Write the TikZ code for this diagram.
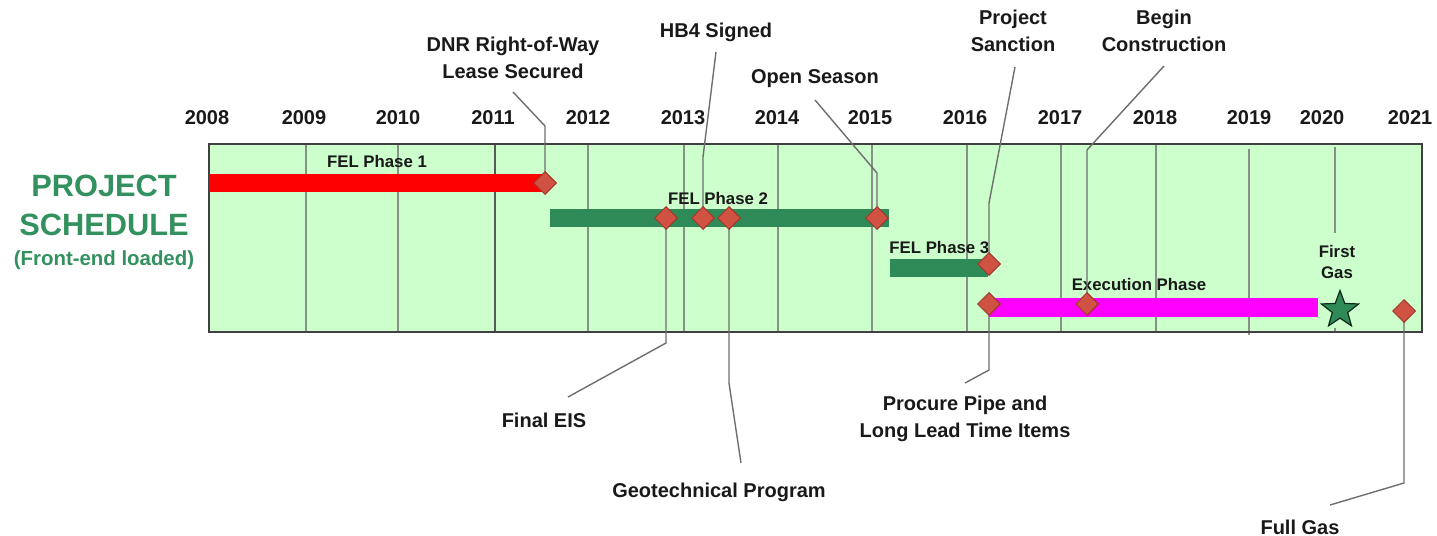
\documentclass[tikz,border=0pt]{standalone}
\usepackage{fontspec}
\setmainfont{Liberation Sans}
\usetikzlibrary{shapes.geometric}
\definecolor{boxfill}{RGB}{204,255,204}
\definecolor{titlegreen}{RGB}{51,145,95}
\definecolor{bargreen}{RGB}{46,139,87}
\definecolor{barred}{RGB}{255,0,0}
\definecolor{barmag}{RGB}{255,0,255}
\definecolor{dmfill}{RGB}{208,82,66}
\definecolor{dmdraw}{RGB}{160,55,45}
\definecolor{gridgray}{RGB}{135,145,135}
\definecolor{leadgray}{RGB}{110,110,110}
\definecolor{txt}{RGB}{25,25,25}
\tikzset{
  year/.style={font=\fontsize{10}{12}\selectfont\bfseries, text=txt, inner sep=0pt},
  lbl/.style={font=\fontsize{10}{13.2}\selectfont\bfseries, align=center, text=txt, inner sep=0pt},
  inlbl/.style={font=\fontsize{8.4}{10.5}\selectfont\bfseries, align=center, text=txt, inner sep=0pt},
  ms/.style={diamond, draw=dmdraw, fill=dmfill, line width=0.5pt, inner sep=0pt, minimum size=11.5pt},
  leader/.style={draw=leadgray, line width=0.7pt},
  gridline/.style={draw=gridgray, line width=0.7pt},
  title/.style={font=\fontsize{15.4}{18}\selectfont\bfseries, text=titlegreen, inner sep=0pt},
  subtitle/.style={font=\fontsize{10.2}{12}\selectfont\bfseries, text=titlegreen, inner sep=0pt}
}
\begin{document}
\begin{tikzpicture}[x=0.5pt,y=-0.5pt]
\useasboundingbox (0,0) rectangle (1437,536);
% box
\fill[boxfill] (209,144) rectangle (1422,332);
% grid lines
\foreach \gx in {306,398,588,684,778,872,967,1061,1156}
  \draw[gridline] (\gx,144) -- (\gx,332);
\draw[gridline] (1249,149) -- (1249,335);
\draw[gridline] (1335,147) -- (1335,233);
\draw[gridline] (1335,328) -- (1335,332);
\draw[draw=black!65, line width=1.3pt] (495,144) -- (495,332);
\draw[draw=black!75, line width=1.2pt] (209,144) rectangle (1422,332);
% bars
\fill[barred] (209,174) rectangle (543,192);
\fill[bargreen] (550,209) rectangle (889,227);
\fill[bargreen] (890,259) rectangle (988,277);
\fill[barmag] (989,298) rectangle (1318,317);
% title
\node[title] (t1) at (104,186) {PROJECT};
\node[title] (t2) at (104,225) {SCHEDULE};
\node[subtitle] (t3) at (104,260) {(Front-end loaded)};
% years
\foreach \yx/\yl in {207/2008,304/2009,398/2010,493/2011,588/2012,683/2013,777/2014,870/2015,965/2016,1060/2017,1155/2018,1249/2019,1322/2020,1410/2021}
  \node[year] (y\yl) at (\yx,118) {\yl};
% inner labels
\node[inlbl] (fel1) at (377,161) {FEL Phase 1};
\node[inlbl] (fel2) at (718,198) {FEL Phase 2};
\node[inlbl, anchor=west] (fel3) at (889,248) {FEL Phase 3};
\node[inlbl] (exec) at (1139,284) {Execution Phase};
\node[inlbl] (fgas) at (1337,262) {First\\Gas};
% milestone labels
\node[lbl] (ldnr) at (513,58) {DNR Right-of-Way\\Lease Secured};
\node[lbl] (lhb4) at (716,32) {HB4 Signed};
\node[lbl] (lopen) at (815,79) {Open Season};
\node[lbl] (lsanc) at (1013,31) {Project\\Sanction};
\node[lbl] (lbegin) at (1164,31) {Begin\\Construction};
\node[lbl] (leis) at (544,420) {Final EIS};
\node[lbl] (lgeo) at (719,492) {Geotechnical Program};
\node[lbl] (lproc) at (965,419) {Procure Pipe and\\Long Lead Time Items};
\node[lbl] (lfull) at (1300,527) {Full Gas};
% milestone positions
\coordinate (p1) at (545,183);
\coordinate (p2) at (666,218);
\coordinate (p3) at (703,218);
\coordinate (p4) at (729,218);
\coordinate (p5) at (877,218);
\coordinate (p6) at (989,264);
\coordinate (p7) at (989,304);
\coordinate (p8) at (1087,304);
\coordinate (p9) at (1404,311);
% leader ends
\coordinate (e1) at (513,92);
\coordinate (e2) at (568,397);
\coordinate (e3) at (716,52);
\coordinate (e4) at (741,463);
\coordinate (e5) at (815,100);
\coordinate (e6) at (1015,67);
\coordinate (e7) at (965,383);
\coordinate (e8) at (1164,66);
\coordinate (e9) at (1330,505);
% leaders
\draw[leader] (p1) -- (545,126) -- (e1);
\draw[leader] (p2) -- (666,343) -- (e2);
\draw[leader] (p3) -- (703,157) -- (e3);
\draw[leader] (p4) -- (729,383) -- (e4);
\draw[leader] (p5) -- (877,173) -- (e5);
\draw[leader] (p6) -- (989,203) -- (e6);
\draw[leader] (p7) -- (989,370) -- (e7);
\draw[leader] (p8) -- (1087,150) -- (e8);
\draw[leader] (p9) -- (1404,483) -- (e9);
% diamonds
\foreach \i in {1,...,9}
  \node[ms] (d\i) at (p\i) {};
% star
\node[star, star points=5, star point ratio=2.4, draw=black!70!bargreen, fill=bargreen, line width=0.6pt, inner sep=0pt, minimum size=19.5pt] (star) at (1340,310) {};
\end{tikzpicture}
\end{document}
